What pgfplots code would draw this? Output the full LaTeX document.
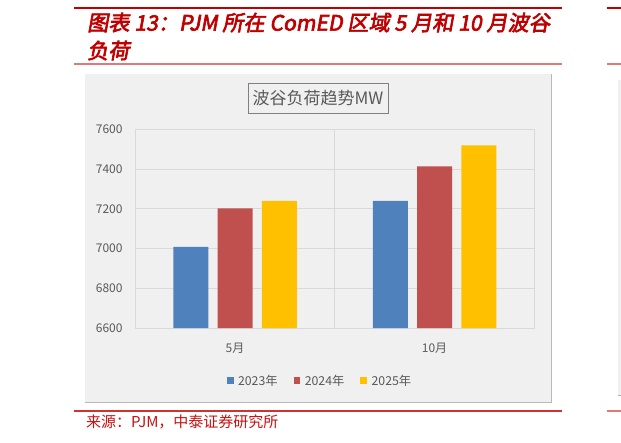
\documentclass[border=0pt]{standalone}
\usepackage{fontspec}
\setmainfont{Noto Sans CJK SC}
\newfontfamily\titlefont[FakeSlant=0.18,FakeBold=3]{Noto Sans CJK SC}
\usepackage{pgfplots}
\pgfplotsset{compat=1.18}
\definecolor{hdred}{HTML}{C00000}
\definecolor{hdpink}{HTML}{E07A7A}
\definecolor{srcred}{HTML}{CC1010}
\definecolor{panel}{HTML}{F0F0F0}
\definecolor{txt}{HTML}{595959}
\definecolor{gridc}{HTML}{D9D9D9}
\definecolor{boxc}{HTML}{808080}
\definecolor{c23}{HTML}{4F81BD}
\definecolor{c24}{HTML}{C0504D}
\definecolor{c25}{HTML}{FFC000}
\pgfplotsset{sqlegend/.style={legend image code/.code={\fill[##1] (0pt,-3.35pt) rectangle (6.7pt,3.35pt);}}}

\begin{document}
\begin{tikzpicture}
\begin{scope}[x=1pt,y=-1pt]
\fill[white] (0,0) rectangle (621,442);
\path[use as bounding box] (0,0) rectangle (621,442);
% header rules and caption
\draw[hdred, line width=2.6pt] (74,8) -- (561.7,8);
\draw[hdpink, line width=2pt] (74,64.3) -- (561.7,64.3);
\node[anchor=base west, inner sep=0pt, text=hdred, font=\titlefont\fontsize{21.2}{24}\selectfont]
  at (87,30.6) {图表 13：PJM 所在 ComED 区域 5 月和 10 月波谷};
\node[anchor=base west, inner sep=0pt, text=hdred, font=\titlefont\fontsize{21.2}{24}\selectfont]
  at (87,58.6) {负荷};
% next figure, cut off at the right
\draw[hdred, line width=2.6pt] (607.3,8) -- (621,8);
\draw[hdpink, line width=2pt] (607.3,64.3) -- (621,64.3);
\fill[panel] (618.3,80) rectangle (621,395.3);
\draw[gray!60] (618.3,395.3) -- (621,395.3);
\draw[hdpink, line width=1.5pt] (607.3,411) -- (621,411);
% chart panel
\fill[panel] (85,74) rectangle (551.3,402);
\draw[gray!55, line width=0.9pt] (551.3,74) -- (551.3,402) -- (85,402);
\draw[boxc, line width=0.9pt] (248,83) rectangle (388,113);
\node[text=txt, font=\fontsize{17}{20}\selectfont] at (318,98) {波谷负荷趋势MW};
% footer
\draw[hdred!80, line width=1.4pt] (74,411) -- (562,411);
\node[anchor=base west, inner sep=0pt, text=srcred, font=\fontsize{15}{17}\selectfont]
  at (86,427.5) {来源：PJM，中泰证券研究所};
\end{scope}

\begin{axis}[
    at={(135.3pt,-328pt)}, anchor=south west,
    width=399pt, height=198.7pt, scale only axis,
    xmin=-0.5, xmax=1.5,
    ymin=6600, ymax=7600,
    xtick={0,1},
    xticklabels={5月,10月},
    ytick={6600,6800,7000,7200,7400,7600},
    ymajorgrids=true,
    grid style={gridc, line width=0.75pt},
    extra x ticks={0.5},
    extra x tick labels={},
    extra x tick style={grid=major},
    axis line style={gridc, line width=0.75pt},
    major tick length=0pt,
    tick label style={text=txt, font=\fontsize{12}{14}\selectfont},
    /pgf/number format/assume math mode=true,
    /pgf/number format/1000 sep={},
    yticklabel style={anchor=east, inner sep=0pt, xshift=-12.6pt},
    xticklabel style={anchor=center, inner sep=0pt, yshift=-20.3pt},
    ybar=9.3pt,
    bar width=35pt,
    legend style={
        at={(0.463,-0.265)}, anchor=center,
        draw=none, fill=none,
        text=txt, font=\fontsize{12.3}{14}\selectfont,
        legend columns=3,
        /tikz/every odd column/.append style={column sep=2.5pt},
        /tikz/every even column/.append style={column sep=14pt},
    },
]
\addplot[fill=c23, draw=none, sqlegend] coordinates {(0,7008) (1,7240)};
\addplot[fill=c24, draw=none, sqlegend] coordinates {(0,7202) (1,7414)};
\addplot[fill=c25, draw=none, sqlegend] coordinates {(0,7240) (1,7519)};
\legend{2023年,2024年,2025年}
\end{axis}
\end{tikzpicture}
\end{document}
